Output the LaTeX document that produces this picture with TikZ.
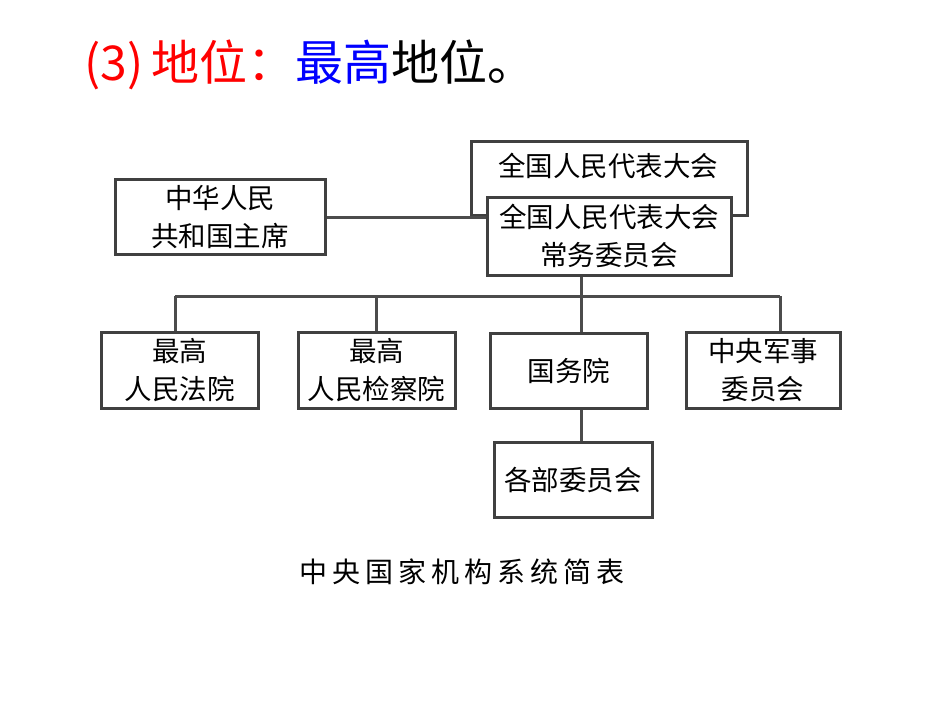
\documentclass[tikz,border=0pt]{standalone}
\usepackage{fontspec}
\setmainfont{Noto Sans CJK SC}
\newfontfamily\cjk{Noto Sans CJK SC}
\begin{document}
\begin{tikzpicture}[x=1pt,y=-1pt,
  box/.style={draw=black!75,line width=3pt,fill=white,inner sep=0pt,align=center,font=\cjk\fontsize{27.5}{38}\selectfont},
  conn/.style={draw=black!70,line width=3pt}]
\useasboundingbox (0,0) rectangle (950,713);
% title
\node[anchor=base west,inner sep=0pt,font=\cjk\fontsize{48}{52}\selectfont] (title) at (84,80)
  {\textcolor{red}{(3)\,地位：}\textcolor{blue}{最高}地位。};
% boxes
\node[box,minimum width=276pt,minimum height=74pt,anchor=north west] (npc) at (470,140) {};
\node[font=\cjk\fontsize{27.5}{30}\selectfont] (npct) at (608,166) {全国人民代表大会};
\node[box,minimum width=244pt,minimum height=78pt] (sc) at (609,236) {全国人民代表大会\\常务委员会};
\node[box,minimum width=210pt,minimum height=75pt] (pres) at (220,217) {中华人民\\共和国主席};
\node[box,minimum width=157pt,minimum height=76pt] (court) at (179.5,370) {最高\\人民法院};
\node[box,minimum width=157pt,minimum height=76pt] (proc) at (376.5,370) {最高\\人民检察院};
\node[box,minimum width=157pt,minimum height=75pt] (state) at (569,371) {国务院};
\node[box,minimum width=154pt,minimum height=76pt] (cmc) at (763,370) {中央军事\\委员会};
\node[box,minimum width=158pt,minimum height=75pt] (mins) at (573,480) {各部委员会};
% caption
\node[font=\cjk\fontsize{28}{30}\selectfont] (cap) at (462,572) {中\hspace{5pt}央\hspace{5pt}国\hspace{5pt}家\hspace{5pt}机\hspace{5pt}构\hspace{5pt}系\hspace{5pt}统\hspace{5pt}简\hspace{5pt}表};
% connectors
\coordinate (bus) at (581,296);
\coordinate (busL) at (175,296);
\coordinate (busR) at (780,296);
\draw[conn] (pres.east) -- (sc.west |- pres.east);
\draw[conn] (bus |- sc.south) -- (bus);
\draw[conn] (busL) -- (busR);
\draw[conn] (busL) -- (busL |- court.north);
\draw[conn] (proc.north) -- (proc.north |- busL);
\draw[conn] (bus) -- (bus |- state.north);
\draw[conn] (busR) -- (busR |- cmc.north);
\draw[conn] (bus |- state.south) -- (bus |- mins.north);
\end{tikzpicture}
\end{document}
